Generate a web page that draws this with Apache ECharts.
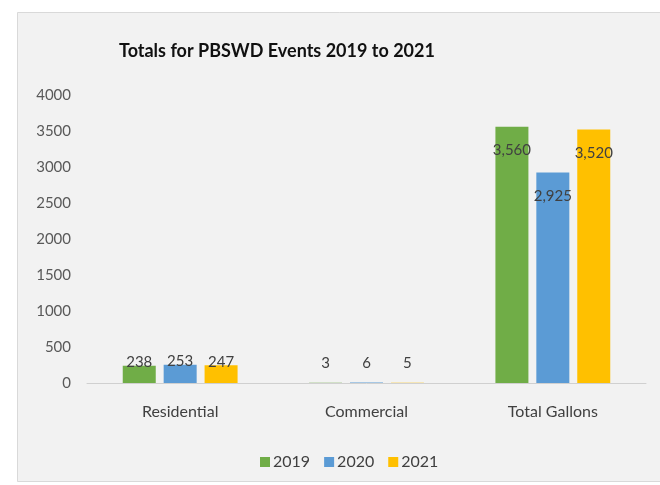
<!DOCTYPE html>
<html>
<head>
<meta charset="utf-8">
<script src="https://cdn.jsdelivr.net/npm/echarts@6/dist/echarts.min.js"></script>
<style>
  html, body { margin: 0; padding: 0; background: #ffffff; }
  #chart { width: 660px; height: 485px; }
</style>
</head>
<body>
<div id="chart"></div>
<script>
// Event totals by customer type and year
const categories = ['Residential', 'Commercial', 'Total Gallons'];
const years = ['2019', '2020', '2021'];
const values2019 = [238, 3, 3560];
const values2020 = [253, 6, 2925];
const values2021 = [247, 5, 3520];
const yTicks = [0, 500, 1000, 1500, 2000, 2500, 3000, 3500, 4000];

const colors = ['#70AD47', '#5B9BD5', '#FFC000'];
const FONT = 'Lato';

// label placement per category: small bars get labels above, tall bars inside the top
function buildData(vals) {
  return vals.map(function (v, i) {
    let label;
    if (i === 2) {
      label = { position: 'insideTop', distance: 16 };
    } else if (i === 1) {
      label = { position: 'top', distance: 12 };
    } else {
      label = { position: 'top', distance: -4 };
    }
    return { value: v, label: label };
  });
}

const seriesVals = [values2019, values2020, values2021];

const chart = echarts.init(document.getElementById('chart'));
chart.setOption({
  animation: false,
  graphic: [{
    type: 'rect',
    z: -10,
    shape: { x: 17.5, y: 12.5, width: 660, height: 469 },
    style: { fill: '#f2f2f2', stroke: '#d9d9d9', lineWidth: 1 }
  }],
  title: {
    text: 'Totals for PBSWD Events 2019 to 2021',
    left: 114,
    top: 37,
    textStyle: { fontFamily: FONT, fontSize: 18, fontWeight: 'bold', color: '#111111' }
  },
  legend: {
    data: years,
    left: 255,
    top: 449,
    itemWidth: 10,
    itemHeight: 10,
    itemGap: 14,
    icon: 'rect',
    textStyle: { fontFamily: FONT, fontSize: 16, color: '#404040', padding: [0, 0, 0, -2] }
  },
  grid: { left: 87, right: 14, top: 95, bottom: 102 },
  xAxis: {
    type: 'category',
    data: categories,
    axisLine: { lineStyle: { color: '#d0d0d0' } },
    axisTick: { show: false },
    axisLabel: { fontFamily: FONT, fontSize: 16, color: '#404040', margin: 21 }
  },
  yAxis: {
    type: 'value',
    min: yTicks[0],
    max: yTicks[yTicks.length - 1],
    interval: 500,
    splitLine: { show: false },
    axisLine: { show: false },
    axisTick: { show: false },
    axisLabel: {
      fontFamily: FONT, fontSize: 15, color: '#595959', margin: 16,
      formatter: function (v) { return String(v); }
    }
  },
  series: seriesVals.map(function (vals, k) {
    return {
      name: years[k],
      type: 'bar',
      data: buildData(vals),
      barWidth: 33,
      barGap: '24%',
      itemStyle: { color: colors[k] },
      label: {
        show: true,
        fontFamily: FONT,
        fontSize: 15,
        color: '#404040',
        formatter: function (p) { return p.value.toLocaleString('en-US'); }
      }
    };
  })
});
</script>
</body>
</html>
